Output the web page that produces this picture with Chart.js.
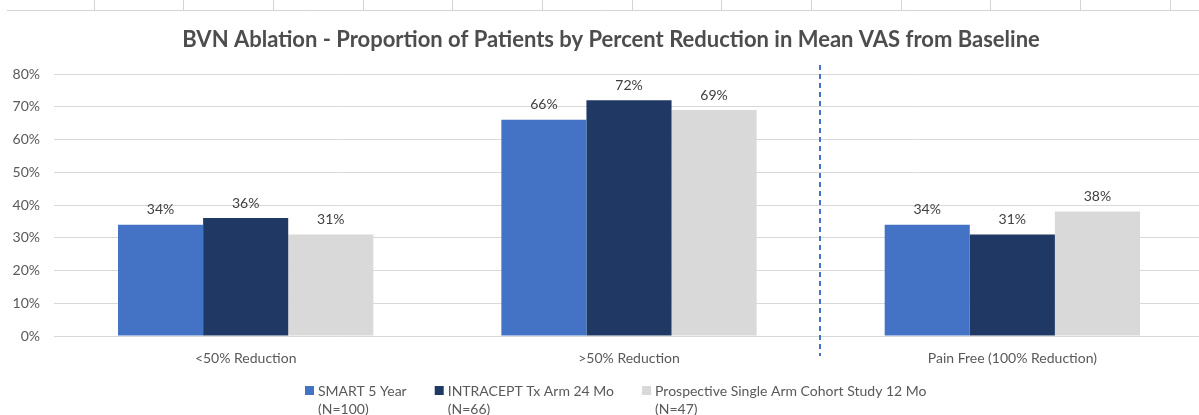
<!DOCTYPE html>
<html>
<head>
<meta charset="utf-8">
<script src="https://cdn.jsdelivr.net/npm/chart.js@4.4.1/dist/chart.umd.min.js"></script>
<style>
  html, body { margin: 0; padding: 0; background: #fff; }
  #wrap { width: 1199px; height: 415px; overflow: hidden; position: relative; }
  canvas { display: block; }
</style>
</head>
<body>
<div id="wrap"><canvas id="chart" width="1206" height="415"></canvas></div>
<script>
const titleText = "BVN Ablation - Proportion of Patients by Percent Reduction in Mean VAS from Baseline";
const categories = ["<50% Reduction", ">50% Reduction", "Pain Free (100% Reduction)"];
const smart5Year = [34, 66, 34];
const intracept24Mo = [36, 72, 31];
const prospective12Mo = [31, 69, 38];
const seriesLabels = [
    ["SMART 5 Year", "(N=100)"],
    ["INTRACEPT Tx Arm 24 Mo", "(N=66)"],
    ["Prospective Single Arm Cohort Study 12 Mo", "(N=47)"]
];
const seriesColors = ["#4472C4", "#203864", "#D9D9D9"];
const yMax = 80;
const yStep = 10;

const FONT = "Lato, 'Noto Sans', sans-serif";
const TEXT = "#595959";

// top sheet border with column ticks + title
const frame = {
    id: "frame",
    beforeDraw(chart) {
        const ctx = chart.ctx;
        ctx.save();
        ctx.strokeStyle = "#d4d4d4";
        ctx.lineWidth = 1;
        ctx.beginPath();
        ctx.moveTo(7, 10.5);
        ctx.lineTo(chart.width, 10.5);
        for (let x = 93.5; x < chart.width; x += 89.67) {
            ctx.moveTo(Math.round(x) + 0.5, 0);
            ctx.lineTo(Math.round(x) + 0.5, 10);
        }
        ctx.stroke();

        ctx.fillStyle = "#4d4d4d";
        ctx.font = "bold 22px " + FONT;
        ctx.textAlign = "center";
        ctx.textBaseline = "middle";
        ctx.fillText(titleText, 611, 40);
        ctx.restore();
    }
};

// dashed divider between 2nd and 3rd groups, value labels, legend
const extras = {
    id: "extras",
    afterDatasetsDraw(chart) {
        const ctx = chart.ctx;
        const xs = chart.scales.x;
        ctx.save();

        const xd = Math.round((xs.getPixelForValue(1) + xs.getPixelForValue(2)) / 2) - 1;
        ctx.strokeStyle = "#4472C4";
        ctx.lineWidth = 2;
        ctx.setLineDash([5, 4]);
        ctx.beginPath();
        ctx.moveTo(xd, 65);
        ctx.lineTo(xd, 356);
        ctx.stroke();
        ctx.setLineDash([]);

        ctx.fillStyle = "#404040";
        ctx.font = "14px " + FONT;
        ctx.textAlign = "center";
        ctx.textBaseline = "middle";
        chart.data.datasets.forEach((ds, i) => {
            chart.getDatasetMeta(i).data.forEach((bar, j) => {
                ctx.fillText(ds.data[j] + "%", bar.x, bar.y - 15);
            });
        });

        ctx.font = "14px " + FONT;
        ctx.textAlign = "left";
        let x = 305;
        chart.data.datasets.forEach((ds) => {
            ctx.fillStyle = ds.backgroundColor;
            ctx.fillRect(x, 386, 9, 9);
            ctx.fillStyle = TEXT;
            ctx.fillText(ds.label[0], x + 13, 391);
            ctx.fillText(ds.label[1], x + 13, 409);
            x += 13 + ctx.measureText(ds.label[0]).width + 28;
        });
        ctx.restore();
    }
};

new Chart(document.getElementById("chart"), {
    type: "bar",
    data: {
        labels: categories,
        datasets: [
            { label: seriesLabels[0], data: smart5Year, backgroundColor: seriesColors[0] },
            { label: seriesLabels[1], data: intracept24Mo, backgroundColor: seriesColors[1] },
            { label: seriesLabels[2], data: prospective12Mo, backgroundColor: seriesColors[2] }
        ]
    },
    options: {
        responsive: false,
        animation: false,
        layout: { padding: { top: 74, left: 0, right: 2, bottom: 0 } },
        datasets: { bar: { categoryPercentage: 0.666, barPercentage: 1 } },
        plugins: {
            legend: { display: false },
            title: { display: false },
            tooltip: { enabled: false }
        },
        scales: {
            x: {
                grid: { display: false },
                border: { color: "#d9d9d9" },
                ticks: { color: TEXT, font: { family: FONT, size: 14 }, padding: 6 },
                afterFit(scale) { scale.height = 79; }
            },
            y: {
                min: 0,
                max: yMax,
                ticks: {
                    stepSize: yStep,
                    color: TEXT,
                    font: { family: FONT, size: 14 },
                    padding: 14,
                    callback: (v) => v + "%"
                },
                grid: { color: "#d9d9d9", drawTicks: false },
                border: { display: false },
                afterFit(scale) { scale.width = 54; }
            }
        }
    },
    plugins: [frame, extras]
});
</script>
</body>
</html>
